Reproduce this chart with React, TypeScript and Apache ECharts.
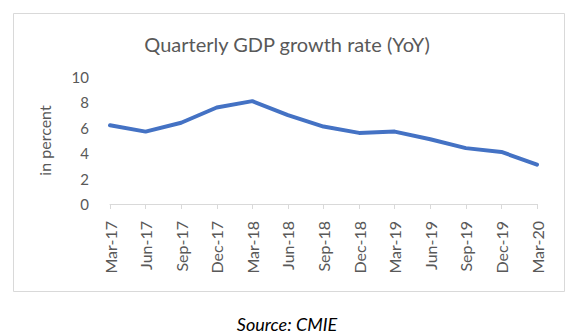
import React, { useEffect, useRef } from "react";
import * as echarts from "echarts";

const categories = ["Mar-17", "Jun-17", "Sep-17", "Dec-17", "Mar-18", "Jun-18", "Sep-18", "Dec-18", "Mar-19", "Jun-19", "Sep-19", "Dec-19", "Mar-20"];
const gdpGrowth = [6.2, 5.7, 6.4, 7.6, 8.1, 7.0, 6.1, 5.6, 5.7, 5.1, 4.4, 4.1, 3.1];
const yTicks = { min: 0, max: 10, interval: 2 };
const titleText = "Quarterly GDP growth rate (YoY)";
const yAxisName = "in percent";
const sourceText = "Source: CMIE";

export default function App() {
  const ref = useRef<HTMLDivElement>(null);
  useEffect(() => {
    document.body.style.margin = "0";
    const chart = echarts.init(ref.current!, null, { renderer: "svg" });
    const font = "Lato, 'Open Sans', sans-serif";
    chart.setOption({
      animation: false,
      backgroundColor: "#ffffff",
      textStyle: { fontFamily: font },
      title: [
        {
          text: titleText,
          left: "center",
          top: 29,
          textStyle: { fontFamily: font, fontSize: 20, fontWeight: "normal", color: "#595959" },
        },
        {
          text: sourceText,
          left: "center",
          top: 310,
          textStyle: { fontFamily: font, fontSize: 18, fontStyle: "italic", fontWeight: "normal", color: "#000000" },
        },
      ],
      graphic: [
        {
          type: "rect",
          z: -1,
          shape: { x: 13.5, y: 13.5, width: 551, height: 278 },
          style: { fill: "none", stroke: "#d9d9d9", lineWidth: 1 },
        },
      ],
      grid: { left: 110, right: 37, top: 77, bottom: 131, containLabel: false },
      xAxis: {
        type: "category",
        data: categories,
        boundaryGap: false,
        axisLine: { show: true, lineStyle: { color: "#d9d9d9", width: 1 } },
        axisTick: { show: true, length: 5, lineStyle: { color: "#d9d9d9" } },
        axisLabel: { rotate: 90, margin: 17, fontSize: 16, color: "#595959", fontFamily: font, interval: 0 },
        splitLine: { show: false },
      },
      yAxis: {
        type: "value",
        min: yTicks.min,
        max: yTicks.max,
        interval: yTicks.interval,
        name: yAxisName,
        nameLocation: "middle",
        nameRotate: 90,
        nameGap: 58,
        nameTextStyle: { fontFamily: font, fontSize: 16, color: "#595959" },
        axisLine: { show: false },
        axisTick: { show: false },
        splitLine: { show: false },
        axisLabel: { margin: 21, fontSize: 15, color: "#595959", fontFamily: font },
      },
      series: [
        {
          type: "line",
          data: gdpGrowth,
          symbol: "none",
          lineStyle: { color: "#4472c4", width: 4, cap: "round", join: "round" },
        },
      ],
    });
    return () => chart.dispose();
  }, []);
  return <div ref={ref} style={{ width: 574, height: 335, position: "absolute", left: 0, top: 0 }} />;
}
